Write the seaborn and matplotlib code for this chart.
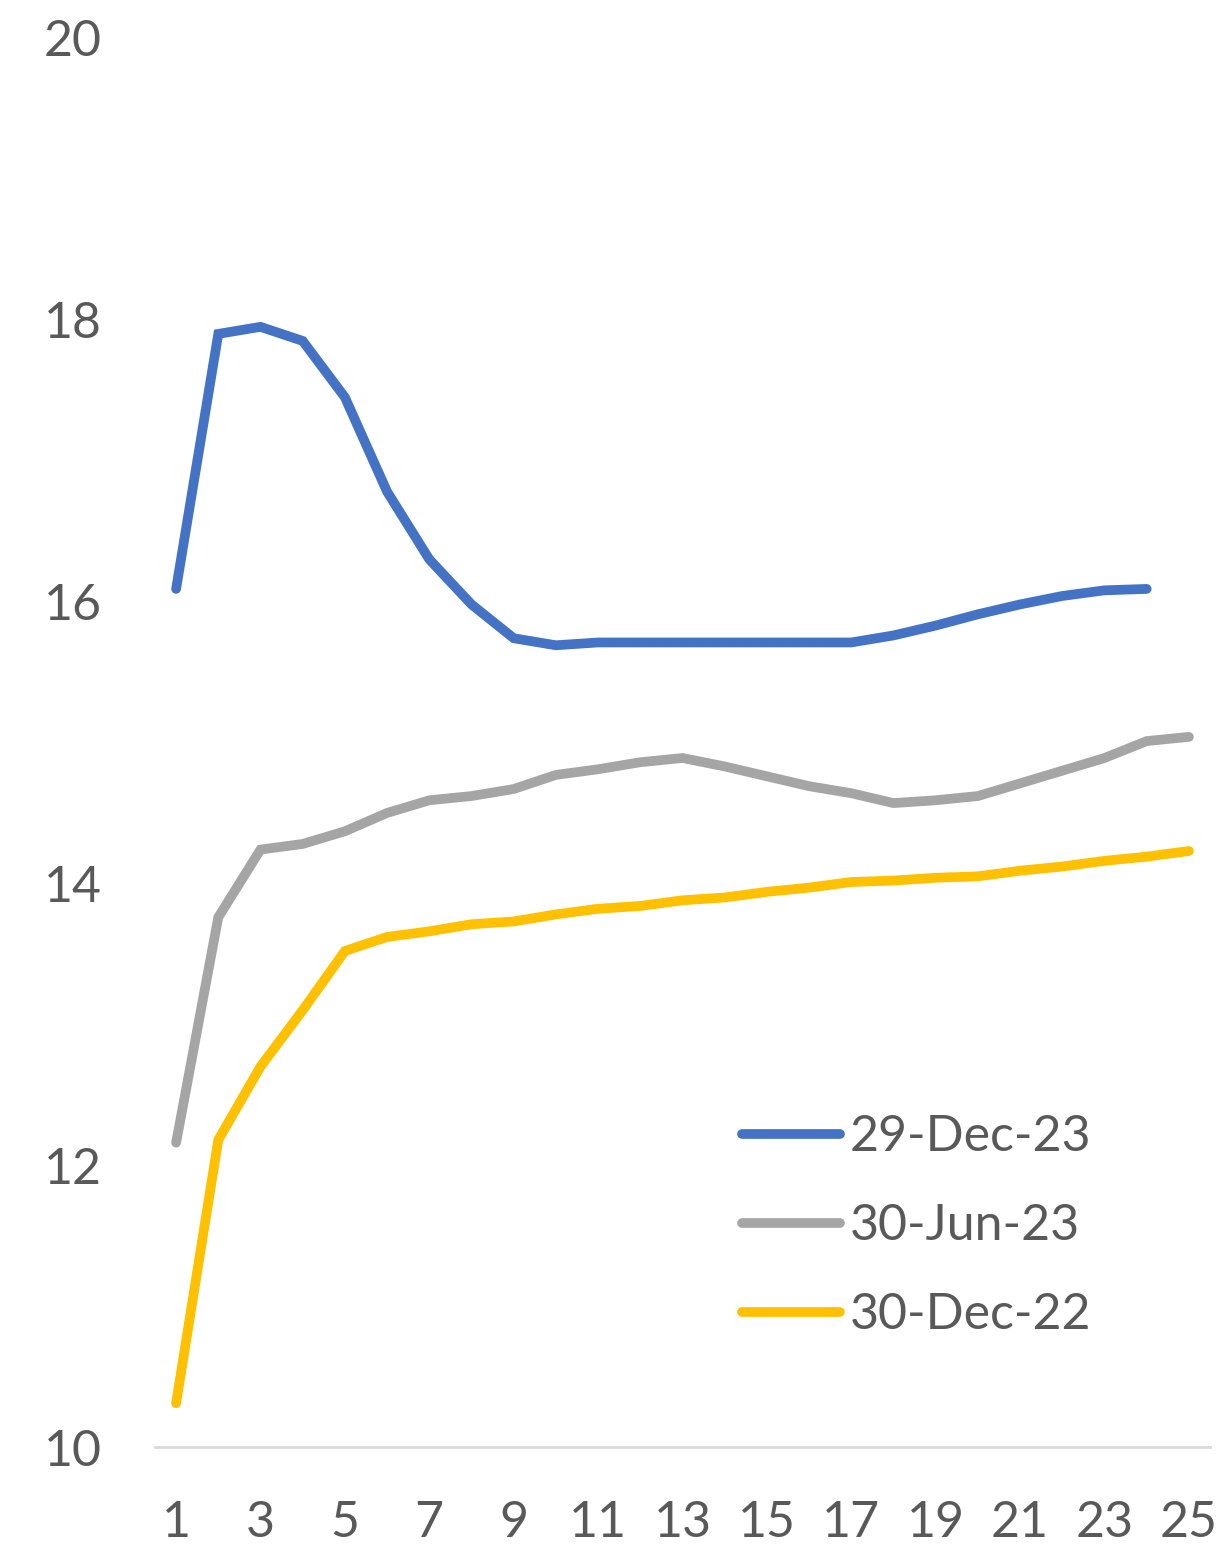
import matplotlib
matplotlib.use("Agg")
import matplotlib.pyplot as plt
import seaborn as sns
import pandas as pd

# Tenor points (x axis) and the three curves
tenor_dec23 = list(range(1, 25))
tenor_full = list(range(1, 26))

curve_29_dec_23 = [16.09, 17.90, 17.95, 17.85, 17.45, 16.78, 16.30, 15.98,
                   15.74, 15.69, 15.71, 15.71, 15.71, 15.71, 15.71, 15.71,
                   15.71, 15.76, 15.83, 15.91, 15.98, 16.04, 16.08, 16.09]
curve_30_jun_23 = [12.16, 13.76, 14.24, 14.28, 14.37, 14.50, 14.59, 14.62,
                   14.67, 14.77, 14.81, 14.86, 14.89, 14.83, 14.76, 14.69,
                   14.64, 14.57, 14.59, 14.62, 14.71, 14.80, 14.89, 15.01,
                   15.04]
curve_30_dec_22 = [10.31, 12.18, 12.70, 13.10, 13.52, 13.62, 13.66, 13.71,
                   13.73, 13.78, 13.82, 13.84, 13.88, 13.90, 13.94, 13.97,
                   14.01, 14.02, 14.04, 14.05, 14.09, 14.12, 14.16, 14.19,
                   14.23]

series_labels = ["29-Dec-23", "30-Jun-23", "30-Dec-22"]
series_colors = ["#4472C4", "#A5A5A5", "#FFC000"]
x_ticks = list(range(1, 26, 2))
y_ticks = [10, 12, 14, 16, 18, 20]

frames = [
    pd.DataFrame({"tenor": tenor_dec23, "value": curve_29_dec_23, "curve": series_labels[0]}),
    pd.DataFrame({"tenor": tenor_full, "value": curve_30_jun_23, "curve": series_labels[1]}),
    pd.DataFrame({"tenor": tenor_full, "value": curve_30_dec_22, "curve": series_labels[2]}),
]
df = pd.concat(frames, ignore_index=True)

sns.set_theme(style="white")
plt.rcParams["font.family"] = ["Lato", "DejaVu Sans"]

text_color = "#595959"
line_w = 7.0
fig = plt.figure(figsize=(12.24, 15.49), dpi=100)
ax = fig.add_axes([155 / 1224, 1 - 1447 / 1549, (1210 - 155) / 1224, (1447 - 38) / 1549])

sns.lineplot(data=df, x="tenor", y="value", hue="curve",
             hue_order=series_labels, palette=series_colors,
             linewidth=line_w, ax=ax, sort=False,
             solid_capstyle="round", solid_joinstyle="miter")

ax.set_xlim(0.5, 25.5)
ax.set_ylim(10, 20)
ax.set_xticks(x_ticks)
ax.set_yticks(y_ticks)
ax.set_xlabel("")
ax.set_ylabel("")
ax.tick_params(axis="both", length=0, labelsize=36, colors=text_color)
ax.tick_params(axis="x", pad=38)
ax.tick_params(axis="y", pad=80)
for lbl in ax.get_yticklabels():
    lbl.set_horizontalalignment("left")

for side in ["top", "right", "left"]:
    ax.spines[side].set_visible(False)
ax.spines["bottom"].set_color("#D9D9D9")
ax.spines["bottom"].set_linewidth(2)
ax.grid(False)

leg = ax.legend(loc="center left", bbox_to_anchor=((742 - 155) / 1055, (1447 - 1226) / 1409),
                frameon=False, fontsize=36, handlelength=1.95, handletextpad=0.2,
                labelspacing=0.86, borderpad=0, borderaxespad=0)
for txt in leg.get_texts():
    txt.set_color(text_color)
for line in leg.get_lines():
    line.set_linewidth(line_w)
    line.set_solid_capstyle("round")

fig.savefig("out.png", dpi=100)
